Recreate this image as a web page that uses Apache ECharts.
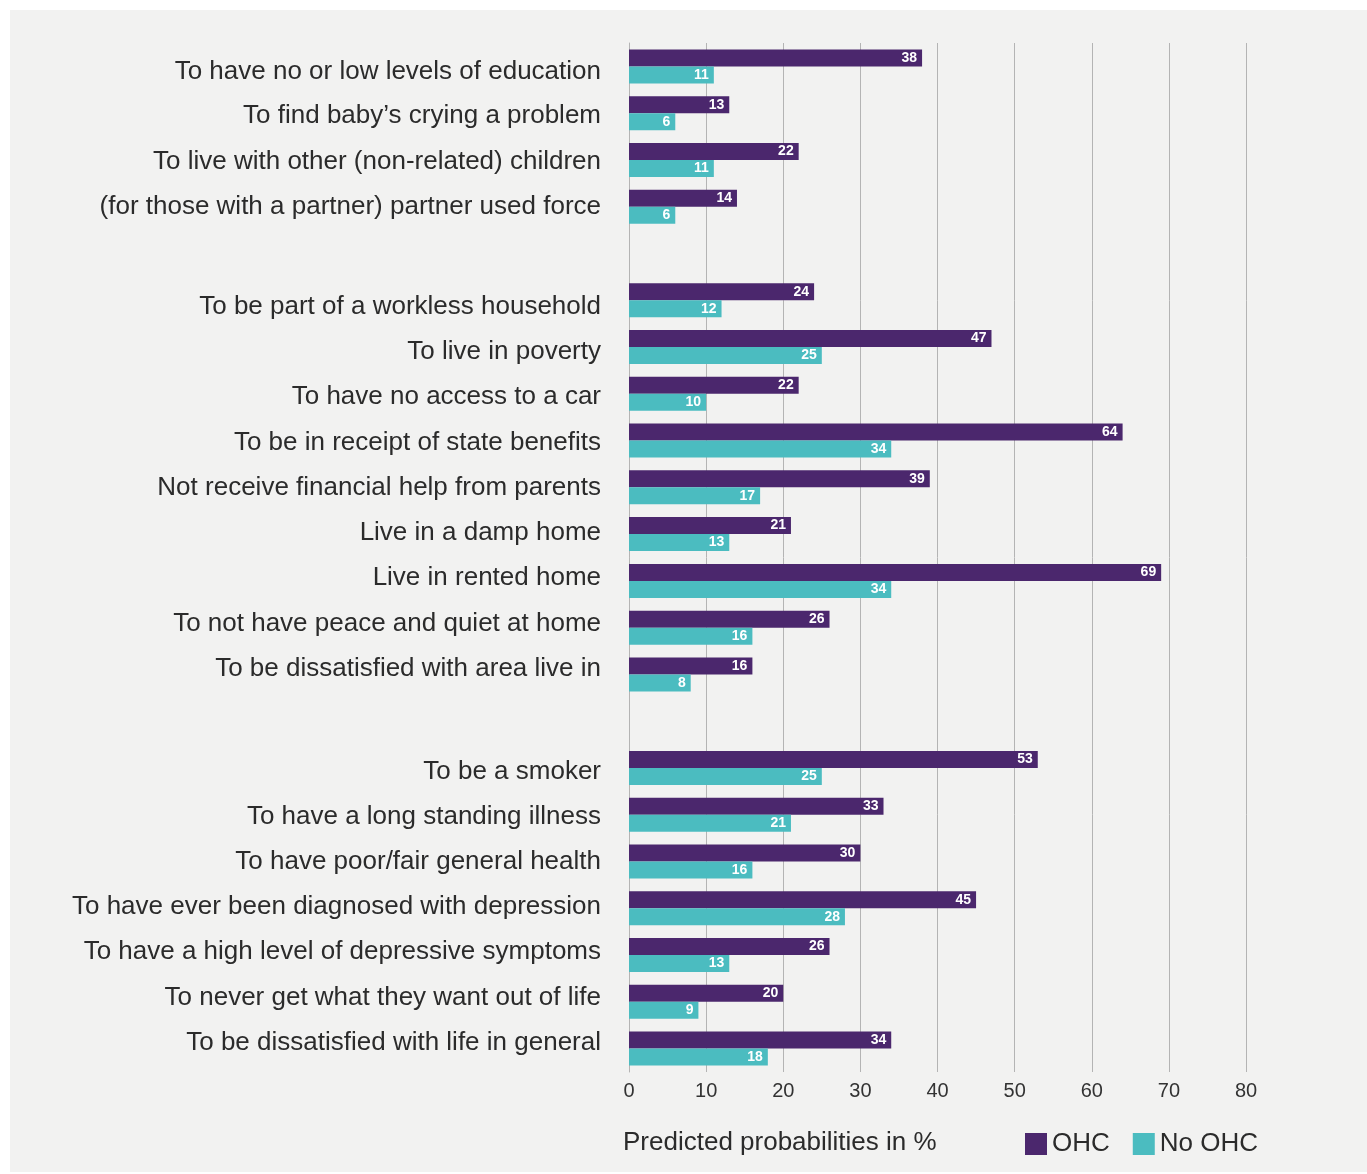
<!DOCTYPE html>
<html>

<head>
    <meta charset="utf-8">
    <script type="text/javascript" src="https://cdn.jsdelivr.net/npm/echarts@6/dist/echarts.min.js"></script>
    <title>Predicted probabilities</title>
    <style>
        body { margin: 0; background: #ffffff; }
        #container { position: absolute; left: 10px; top: 10px; width: 1357px; height: 1162px; background: #f2f2f1; }
    </style>
</head>

<body>
    <div id="container"></div>
    <script type="text/javascript">
    // categories, top to bottom ('' = gap between groups)
    var categories = [
        'To have no or low levels of education',
        'To find baby\u2019s crying a problem',
        'To live with other (non-related) children',
        '(for those with a partner) partner used force',
        '',
        'To be part of a workless household',
        'To live in poverty',
        'To have no access to a car',
        'To be in receipt of state benefits',
        'Not receive financial help from parents',
        'Live in a damp home',
        'Live in rented home',
        'To not have peace and quiet at home',
        'To be dissatisfied with area live in',
        '',
        'To be a smoker',
        'To have a long standing illness',
        'To have poor/fair general health',
        'To have ever been diagnosed with depression',
        'To have a high level of depressive symptoms',
        'To never get what they want out of life',
        'To be dissatisfied with life in general'
    ];

    var ohc = [38, 13, 22, 14, '-', 24, 47, 22, 64, 39, 21, 69, 26, 16, '-', 53, 33, 30, 45, 26, 20, 34];
    var noOhc = [11, 6, 11, 6, '-', 12, 25, 10, 34, 17, 13, 34, 16, 8, '-', 25, 21, 16, 28, 13, 9, 18];

    var xTicks = [0, 10, 20, 30, 40, 50, 60, 70, 80];

    var purple = '#4b276d';
    var teal = '#4bbcc0';
    var font = "'Liberation Sans', Arial, sans-serif";

    // in the original the row labels sit on a slightly tighter pitch than the bars,
    // so nudge each label a few px (first-row offset per group, then drift per row)
    var groupOffset = [5, 6.5, 3.5];
    var drift = 1.55;

    function labelShift(index) {
        var g = 0, start = 0;
        for (var i = 0; i < index; i++) {
            if (categories[i] === '') { g++; start = i + 1; }
        }
        return Math.round(groupOffset[g] - drift * (index - start));
    }

    var rich = {};
    for (var s = -10; s <= 10; s++) {
        rich['s' + (s + 10)] = {
            fontSize: 26,
            color: '#2b2b2b',
            fontFamily: font,
            padding: s >= 0 ? [2 * s, 0, 0, 0] : [0, 0, -2 * s, 0]
        };
    }

    var myChart = echarts.init(document.getElementById('container'));

    var valueLabel = {
        show: true,
        position: 'insideRight',
        distance: 5,
        color: '#ffffff',
        fontWeight: 'bold',
        fontSize: 14,
        fontFamily: font
    };

    var option = {
        textStyle: { fontFamily: font },
        title: {
            text: 'Predicted probabilities in %',
            left: 608,
            top: 1115,
            textStyle: { fontSize: 26, fontWeight: 'normal', color: '#2b2b2b', fontFamily: font }
        },
        legend: {
            data: ['OHC', 'No OHC'],
            left: 1010,
            top: 1116,
            icon: 'rect',
            itemWidth: 22,
            itemHeight: 22,
            itemGap: 23,
            textStyle: { fontSize: 26, color: '#2b2b2b', fontFamily: font }
        },
        grid: {
            left: 619,
            top: 33,
            width: 617,
            height: 1029,
            containLabel: false
        },
        xAxis: {
            type: 'value',
            min: xTicks[0],
            max: xTicks[xTicks.length - 1],
            interval: 10,
            axisLine: { show: false },
            axisTick: { show: false },
            splitLine: { show: true, lineStyle: { color: '#b4b4b4', width: 1 } },
            axisLabel: { fontSize: 20, color: '#333333', margin: 9, fontFamily: font }
        },
        yAxis: {
            type: 'category',
            inverse: true,
            data: categories,
            axisLine: { show: true, lineStyle: { color: '#b4b4b4', width: 1 } },
            axisTick: { show: false },
            axisLabel: {
                margin: 28,
                formatter: function (v, idx) {
                    if (!v) return '';
                    var sh = Math.max(-10, Math.min(10, labelShift(idx)));
                    return '{s' + (sh + 10) + '|' + v + '}';
                },
                rich: rich
            }
        },
        series: [{
            name: 'OHC',
            type: 'bar',
            data: ohc,
            barWidth: 17,
            barGap: '0%',
            itemStyle: { color: purple },
            label: valueLabel
        }, {
            name: 'No OHC',
            type: 'bar',
            data: noOhc,
            barWidth: 17,
            barGap: '0%',
            itemStyle: { color: teal },
            label: valueLabel
        }]
    };

    myChart.setOption(option);
    </script>
</body>

</html>
